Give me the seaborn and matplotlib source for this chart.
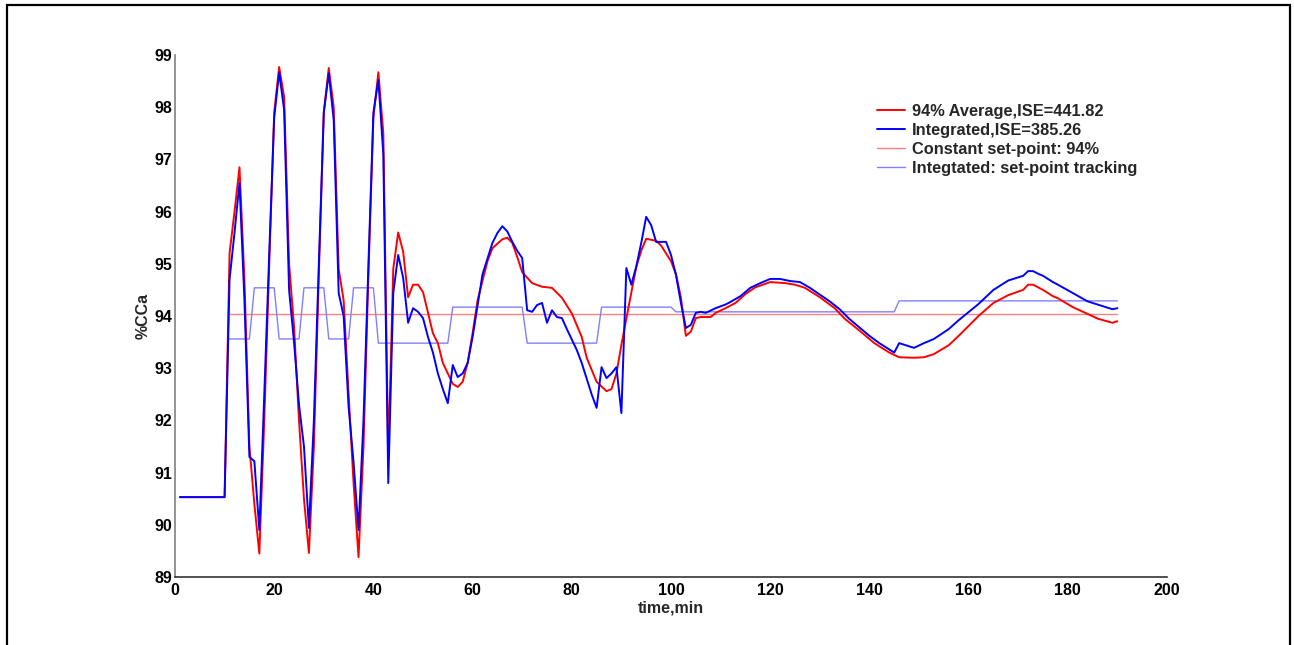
import matplotlib
matplotlib.use("Agg")
import matplotlib.pyplot as plt
import seaborn as sns
import pandas as pd
from matplotlib.patches import Rectangle

# ---------------- data ----------------
t_avg = [1, 10, 11, 12, 13, 14, 15, 16, 17, 18, 19, 20, 21, 22, 23, 24, 25, 26, 27, 28,
         29, 30, 31, 32, 33, 34, 35, 36, 37, 38, 39, 40, 41, 42, 43, 44, 45, 46, 47, 48,
         49, 50, 52, 53, 54, 56, 57, 58, 59, 60, 61, 63, 64, 66, 67, 68, 69, 70, 72, 74,
         76, 78, 80, 82, 83, 85, 87, 88, 89, 90, 92, 93, 94, 95, 97, 98, 100, 101, 102, 103,
         104, 105, 106, 108, 109, 111, 113, 115, 117, 120, 123, 125, 127, 130, 133, 135, 138, 141, 144, 146,
         149, 151, 153, 156, 158, 162, 165, 168, 171, 172, 173, 175, 177, 178, 181, 184, 186, 189, 190]
v_avg = [90.53, 90.53, 95.2, 96.0, 96.85, 94.7, 91.5, 90.4, 89.45, 92.0, 95.0, 97.9, 98.77, 98.2, 95.0, 93.8, 92.0, 90.5, 89.46, 91.5,
         94.8, 97.9, 98.75, 98.0, 94.9, 94.3, 92.5, 90.8, 89.38, 91.5, 94.8, 97.8, 98.67, 97.5, 91.3, 94.9, 95.6, 95.23, 94.36, 94.6,
         94.6, 94.46, 93.67, 93.48, 93.1, 92.7, 92.64, 92.74, 93.1, 93.67, 94.3, 95.05, 95.3, 95.47, 95.5, 95.4, 95.13, 94.84, 94.63, 94.56,
         94.54, 94.35, 94.05, 93.6, 93.2, 92.74, 92.56, 92.6, 92.9, 93.45, 94.45, 94.94, 95.25, 95.48, 95.44, 95.35, 95.05, 94.8, 94.35, 93.62,
         93.7, 93.96, 93.98, 93.98, 94.06, 94.15, 94.25, 94.42, 94.55, 94.65, 94.63, 94.6, 94.54, 94.36, 94.15, 93.95, 93.72, 93.48, 93.3, 93.21,
         93.2, 93.21, 93.27, 93.44, 93.62, 94.0, 94.25, 94.4, 94.5, 94.6, 94.6, 94.5, 94.38, 94.34, 94.17, 94.04, 93.95, 93.87, 93.9]

t_int = [1, 10, 11, 12, 13, 14, 15, 16, 17, 18, 19, 20, 21, 22, 23, 24, 25, 26, 27, 28,
         29, 30, 31, 32, 33, 34, 35, 36, 37, 38, 39, 40, 41, 42, 43, 44, 45, 46, 47, 48,
         49, 50, 51, 52, 53, 54, 55, 56, 57, 58, 59, 60, 61, 62, 63, 64, 65, 66, 67, 68,
         69, 70, 71, 72, 73, 74, 75, 76, 77, 78, 79, 80, 81, 82, 83, 84, 85, 86, 87, 88,
         89, 90, 91, 92, 93, 94, 95, 96, 97, 99, 100, 101, 102, 103, 104, 105, 106, 107, 109, 111,
         112, 114, 116, 118, 120, 122, 124, 126, 128, 130, 132, 134, 136, 138, 140, 142, 144, 145, 146, 149,
         151, 153, 156, 158, 162, 165, 168, 171, 172, 173, 174, 175, 177, 178, 181, 184, 188, 189, 190]
v_int = [90.53, 90.53, 94.7, 95.6, 96.55, 94.3, 91.3, 91.22, 89.9, 92.5, 95.2, 97.8, 98.67, 97.95, 94.5, 93.5, 92.3, 91.5, 89.94, 92.0,
         95.0, 97.9, 98.65, 97.75, 94.44, 94.0, 92.26, 91.2, 89.9, 92.0, 95.0, 97.9, 98.52, 97.1, 90.8, 94.44, 95.17, 94.73, 93.87, 94.15,
         94.08, 93.96, 93.6, 93.3, 92.9, 92.6, 92.33, 93.06, 92.83, 92.9, 93.1, 93.6, 94.2, 94.8, 95.1, 95.4, 95.59, 95.72, 95.62, 95.42,
         95.25, 95.11, 94.11, 94.08, 94.21, 94.25, 93.87, 94.11, 93.98, 93.96, 93.75, 93.55, 93.35, 93.1, 92.8, 92.5, 92.24, 93.02, 92.81, 92.9,
         93.02, 92.14, 94.92, 94.6, 94.95, 95.4, 95.9, 95.74, 95.42, 95.42, 95.17, 94.79, 94.25, 93.77, 93.83, 94.06, 94.08, 94.06, 94.15, 94.22,
         94.27, 94.38, 94.54, 94.63, 94.71, 94.71, 94.67, 94.65, 94.54, 94.41, 94.28, 94.13, 93.94, 93.78, 93.62, 93.48, 93.36, 93.3, 93.48, 93.39,
         93.48, 93.56, 93.75, 93.92, 94.23, 94.5, 94.68, 94.77, 94.86, 94.86, 94.81, 94.77, 94.65, 94.6, 94.44, 94.28, 94.16, 94.13, 94.15]

t_const = [11, 190]
v_const = [94.03, 94.03]

t_track = [11, 15, 16, 20, 21, 25, 26, 30, 31, 35, 36, 40, 41, 55, 56, 70, 71, 85, 86, 100, 101, 145, 146, 190]
v_track = [93.56, 93.56, 94.54, 94.54, 93.56, 93.56, 94.54, 94.54, 93.56, 93.56, 94.54, 94.54, 93.48, 93.48,
           94.17, 94.17, 93.48, 93.48, 94.17, 94.17, 94.08, 94.08, 94.29, 94.29]

labels = ["94% Average,ISE=441.82", "Integrated,ISE=385.26",
          "Constant set-point: 94%", "Integtated: set-point tracking"]
x_ticks = list(range(0, 201, 20))
y_ticks = list(range(89, 100))

# ---------------- style ----------------
sns.set_style("white")
plt.rcParams["font.family"] = ["Liberation Sans", "DejaVu Sans"]
plt.rcParams["font.weight"] = "bold"

fig = plt.figure(figsize=(12.94, 6.45), dpi=100)
ax = fig.add_axes([175 / 1294, 1 - 577 / 645, (1167 - 175) / 1294, (577 - 55) / 645])

series = [
    (t_const, v_const, labels[2], "#ff8080", 1.0, 1),
    (t_track, v_track, labels[3], "#8080ff", 1.0, 1),
    (t_avg, v_avg, labels[0], "#ff0000", 1.4, 2),
    (t_int, v_int, labels[1], "#0000ff", 1.4, 3),
]
for tx, vy, lab, col, lw, z in series:
    df = pd.DataFrame({"t": tx, "v": vy})
    sns.lineplot(data=df, x="t", y="v", ax=ax, color=col, linewidth=lw,
                 label=lab, sort=False, estimator=None, zorder=z)

ax.set_xlim(0, 200)
ax.set_ylim(89, 99)
ax.set_xticks(x_ticks)
ax.set_yticks(y_ticks)
ax.set_xticklabels([str(v) for v in x_ticks], fontsize=11.5, fontweight="bold")
ax.set_yticklabels([str(v) for v in y_ticks], fontsize=11.5, fontweight="bold")
ax.tick_params(axis="both", direction="in", length=7, width=1, colors="#000000", pad=2)
ax.tick_params(axis="x", pad=4)
for s in ["top", "right"]:
    ax.spines[s].set_visible(False)
ax.spines["left"].set_color("#808080")
ax.spines["bottom"].set_color("#333333")
ax.spines["left"].set_linewidth(1.2)
ax.spines["bottom"].set_linewidth(1.2)

ax.set_xlabel("time,min", fontsize=11.5, fontweight="bold", labelpad=2)
ax.set_ylabel("%CCa", fontsize=11.5, fontweight="bold", labelpad=3)

handles, labs = ax.get_legend_handles_labels()
order = [labs.index(l) for l in labels]
leg = ax.legend([handles[i] for i in order], [labs[i] for i in order],
                loc="upper left", bbox_to_anchor=(0.693, 0.935), frameon=False,
                handlelength=1.7, handletextpad=0.4, labelspacing=0.25,
                prop={"weight": "bold", "size": 11.8})

# outer figure frame
fig.patches.append(Rectangle((7 / 1294, -0.05), (1290 - 7) / 1294, 1.05 - 5 / 645,
                             transform=fig.transFigure, fill=False,
                             edgecolor="black", linewidth=1.6, zorder=10))

fig.savefig("out.png", dpi=100, facecolor="white")
